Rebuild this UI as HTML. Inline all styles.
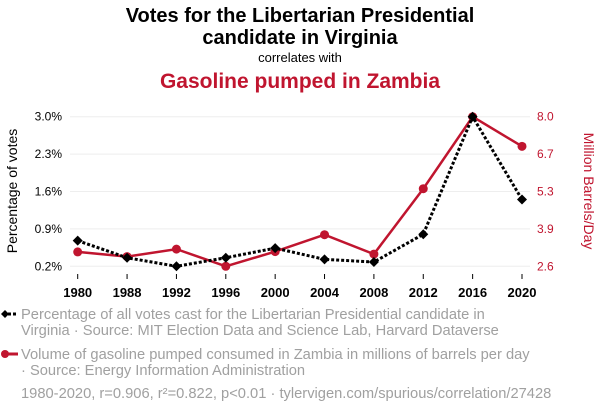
<!DOCTYPE html>
<html><head><meta charset="utf-8"><style>
body{margin:0;background:#fff;width:600px;height:414px;overflow:hidden;font-family:"Liberation Sans",sans-serif}
svg{display:block}
</style></head><body>
<svg id="chart" width="600" height="414">
<text x="300" y="22" text-anchor="middle" font-size="20" font-weight="bold" fill="#000">Votes for the Libertarian Presidential</text>
<text x="300" y="44" text-anchor="middle" font-size="20" font-weight="bold" fill="#000">candidate in Virginia</text>
<text x="300" y="62" text-anchor="middle" font-size="13" fill="#000">correlates with</text>
<text x="300" y="88" text-anchor="middle" font-size="21" font-weight="bold" fill="#c0152f">Gasoline pumped in Zambia</text>
<g id="grid"></g><g id="axes"></g><g id="series"></g>
<text transform="translate(17,191) rotate(-90)" text-anchor="middle" font-size="14" fill="#000">Percentage of votes</text>
<text transform="translate(584,191) rotate(90)" text-anchor="middle" font-size="14" fill="#c0152f">Million Barrels/Day</text>
<g font-size="14.7">
<line x1="3" y1="314" x2="18" y2="314" stroke="#000" stroke-width="3" stroke-dasharray="3,2"/>
<path d="M1 314 L5 310 L9 314 L5 318Z" fill="#000"/>
<text x="21" y="319" fill="#a0a0a0">Percentage of all votes cast for the Libertarian Presidential candidate in</text>
<text x="21" y="335" fill="#a0a0a0">Virginia · Source: MIT Election Data and Science Lab, Harvard Dataverse</text>
</g>
<g font-size="14.7">
<line x1="3" y1="354" x2="18" y2="354" stroke="#c0152f" stroke-width="3"/>
<circle cx="5" cy="354" r="4" fill="#c0152f"/>
<text x="21" y="359" fill="#a0a0a0">Volume of gasoline pumped consumed in Zambia in millions of barrels per day</text>
<text x="21" y="375" fill="#a0a0a0">· Source: Energy Information Administration</text>
</g>
<text x="21" y="398" font-size="14.7" fill="#a0a0a0">1980-2020, r=0.906, r²=0.822, p&lt;0.01 · tylervigen.com/spurious/correlation/27428</text>
</svg>
<script>
const years=["1980","1988","1992","1996","2000","2004","2008","2012","2016","2020"];
const votes=[0.68,0.36,0.2,0.36,0.54,0.33,0.28,0.80,3.0,1.45];
const gasoline=[3.12,2.95,3.22,2.6,3.13,3.74,3.04,5.40,8.0,6.93];
const leftTicks=[0.2,0.9,1.6,2.3,3.0];
const leftLabels=["0.2%","0.9%","1.6%","2.3%","3.0%"];
const rightTicks=[2.6,3.95,5.3,6.65,8.0];
const rightLabels=["2.6","3.9","5.3","6.7","8.0"];
const NS="http://www.w3.org/2000/svg";
const X0=77.7,X1=522,YT=116.7,YB=266.3;
const xs=i=>X0+i*(X1-X0)/(years.length-1);
const yl=v=>YB-(v-0.2)/(3.0-0.2)*(YB-YT);
const yr=v=>YB-(v-2.6)/(8.0-2.6)*(YB-YT);
function mk(t,a,p){const e=document.createElementNS(NS,t);for(const k in a)e.setAttribute(k,a[k]);p.appendChild(e);return e;}
const grid=document.getElementById('grid'),axes=document.getElementById('axes'),ser=document.getElementById('series');
leftTicks.forEach((v,i)=>{
 const g=mk('line',{x1:70,x2:530,y1:yl(v),y2:yl(v),stroke:'#eeeeee','stroke-width':1},grid);
 
 
 const t=mk('text',{x:62,y:yl(v)+4,'text-anchor':'end','font-size':12,fill:'#000'},axes);t.textContent=leftLabels[i];
 
 
});
rightTicks.forEach((v,i)=>{
 const t=mk('text',{x:537,y:yr(v)+4,'font-size':12,fill:'#c0152f'},axes);t.textContent=rightLabels[i];
 
 
});
years.forEach((y,i)=>{
 mk('line',{x1:xs(i),x2:xs(i),y1:274,y2:279,stroke:'#000'},axes);
 const t=mk('text',{x:xs(i),y:297,'text-anchor':'middle','font-size':13,'font-weight':'bold',fill:'#000'},axes);t.textContent=y;
 
 
});
const rp=mk('polyline',{points:gasoline.map((v,i)=>xs(i)+','+yr(v)).join(' '),fill:'none',stroke:'#c0152f','stroke-width':2.5},ser);


gasoline.forEach((v,i)=>{const c=mk('circle',{cx:xs(i),cy:yr(v),r:4.5,fill:'#c0152f'},ser);
 
 });
const bp=mk('polyline',{points:votes.map((v,i)=>xs(i)+','+yl(v)).join(' '),fill:'none',stroke:'#000','stroke-width':3,'stroke-dasharray':'3,2'},ser);


votes.forEach((v,i)=>{const x=xs(i),y=yl(v);const d=mk('path',{d:`M${x-5} ${y} L${x} ${y-5} L${x+5} ${y} L${x} ${y+5}Z`,fill:'#000'},ser);
 
 });
</script>
</body></html>
